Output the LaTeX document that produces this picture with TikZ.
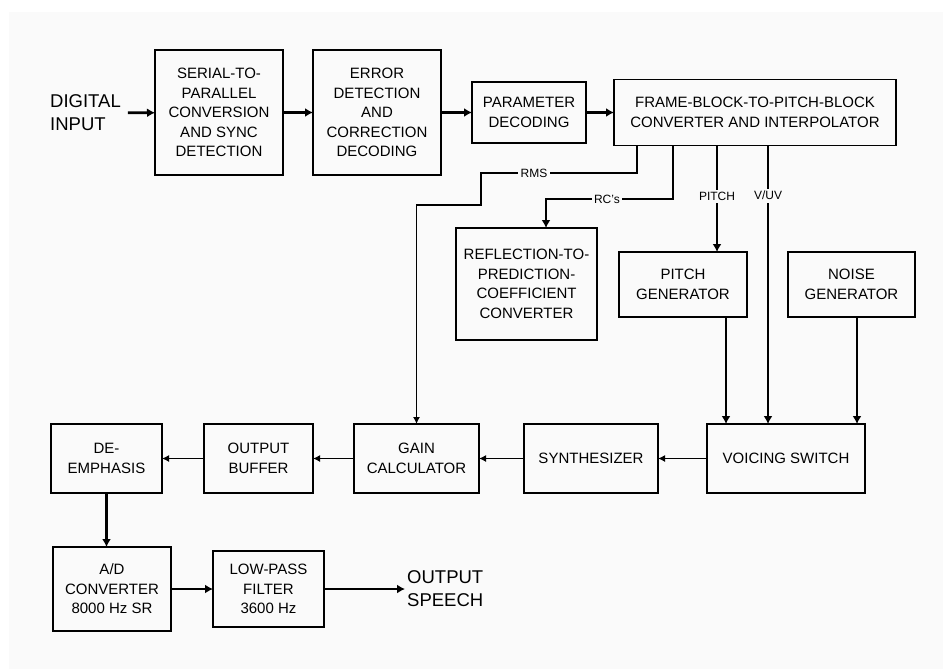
\documentclass[tikz,border=0pt]{standalone}
\usepackage{fontspec}
\setmainfont{Liberation Sans}
\usepackage{tikz}
\usetikzlibrary{arrows.meta, positioning, calc}
\definecolor{bgfill}{HTML}{FAFAFA}

\begin{document}
\begin{tikzpicture}
            [x=1pt, y=-1pt, node distance=30pt,
            >={Latex[length=8pt,width=9pt]},
            block/.style={rectangle, align=center, draw=black, line width=1.3pt,
              inner sep=0pt, outer sep=0pt, font=\fontsize{15}{19.5}\selectfont},
            bigtext/.style={align=left, inner sep=2pt, font=\fontsize{18.5}{23}\selectfont},
            sig/.style={->, line width=2.8pt},
            ctl/.style={-{Latex[length=7pt,width=7pt]}, line width=1.3pt},
            lbl/.style={fill=bgfill, inner sep=2.5pt, font=\fontsize{12}{14}\selectfont}]

            \fill[bgfill] (9,12) rectangle (943,669);
            \useasboundingbox (0,0) rectangle (943,669);

            % top row
            \node[bigtext, anchor=west] (digin) at (48,113) {DIGITAL\\INPUT};
            \node[block, minimum width=128pt, minimum height=125pt] (serial) at (219,112.5)
                {SERIAL-TO-\\PARALLEL\\CONVERSION\\AND SYNC\\DETECTION};
            \node[block, minimum width=128pt, minimum height=125pt] (error) [right=30pt of serial]
                {ERROR\\DETECTION\\AND\\CORRECTION\\DECODING};
            \node[block, minimum width=114pt, minimum height=61pt] (param) [right=31pt of error]
                {PARAMETER\\DECODING};
            \node[block, minimum width=282pt, minimum height=66pt] (frame) [right=28pt of param]
                {FRAME-BLOCK-TO-PITCH-BLOCK\\CONVERTER AND INTERPOLATOR};

            % middle row
            \node[block, minimum width=141pt, minimum height=112pt] (refl) at (526.5,284)
                {REFLECTION-TO-\\PREDICTION-\\COEFFICIENT\\CONVERTER};
            \node[block, minimum width=128pt, minimum height=65pt] (pitchgen) at (683,284.5)
                {PITCH\\GENERATOR};
            \node[block, minimum width=127pt, minimum height=65pt] (noisegen) [right=41pt of pitchgen]
                {NOISE\\GENERATOR};

            % bottom rows
            \node[block, minimum width=158pt, minimum height=69pt] (voicing) at (786,458.5)
                {VOICING SWITCH};
            \node[block, minimum width=134pt, minimum height=69pt] (synth) [left=49pt of voicing]
                {SYNTHESIZER};
            \node[block, minimum width=125pt, minimum height=69pt] (gain) [left=45pt of synth]
                {GAIN\\CALCULATOR};
            \node[block, minimum width=109pt, minimum height=69pt] (outbuf) [left=41pt of gain]
                {OUTPUT\\BUFFER};
            \node[block, minimum width=111pt, minimum height=69pt] (deemph) [left=42pt of outbuf]
                {DE-\\EMPHASIS};
            \node[block, minimum width=118pt, minimum height=84pt] (adconv) at (112,589)
                {A/D\\CONVERTER\\8000 Hz SR};
            \node[block, minimum width=111pt, minimum height=76pt] (lowpass) [right=42pt of adconv]
                {LOW-PASS\\FILTER\\3600 Hz};
            \node[bigtext] (outsp) [right=81pt of lowpass] {OUTPUT\\SPEECH};

            \coordinate (rmsa) at (481,173);
            \coordinate (rmsb) at (481,205);
            \coordinate (rcbend) at (546,199);
            \coordinate (pgout) at ([xshift=107pt]pitchgen.south west);
            \coordinate (ngout) at ([xshift=69pt]noisegen.south west);

            \draw[sig, shorten <=5pt] (digin) -- (serial);
            \draw[sig] (serial) edge (error);
            \draw[sig] (error) edge (param);
            \draw[sig] (param) edge (frame);

            \draw[ctl] ([xshift=23pt]frame.south west) |- node[lbl, pos=0.83] {RMS} (rmsa)
                -- (rmsb) -| (gain.north);
            \draw[sig] ([xshift=59pt]frame.south west) |- node[lbl, pos=0.76] {RC's} (rcbend)
                -- (rcbend |- refl.north);
            \draw[sig] ([xshift=103pt]frame.south west) -- node[lbl, pos=0.48] {PITCH}
                ([xshift=98pt]pitchgen.north west);
            \draw[sig] ([xshift=154pt]frame.south west) -- node[lbl, pos=0.18] {V/UV}
                ([xshift=61pt]voicing.north west);
            \draw[sig] (pgout) -- (pgout |- voicing.north);
            \draw[sig] (ngout) -- (ngout |- voicing.north);

            \draw[ctl] (voicing) edge (synth);
            \draw[ctl] (synth) edge (gain);
            \draw[ctl] (gain) edge (outbuf);
            \draw[ctl] (outbuf) edge (deemph);
            \draw[sig] (deemph.south) -- (deemph.south |- adconv.north);
            \draw[sig] (adconv.east) -- (adconv.east -| lowpass.west);
            \draw[sig] (lowpass) -- (outsp);

          \end{tikzpicture}
\end{document}
